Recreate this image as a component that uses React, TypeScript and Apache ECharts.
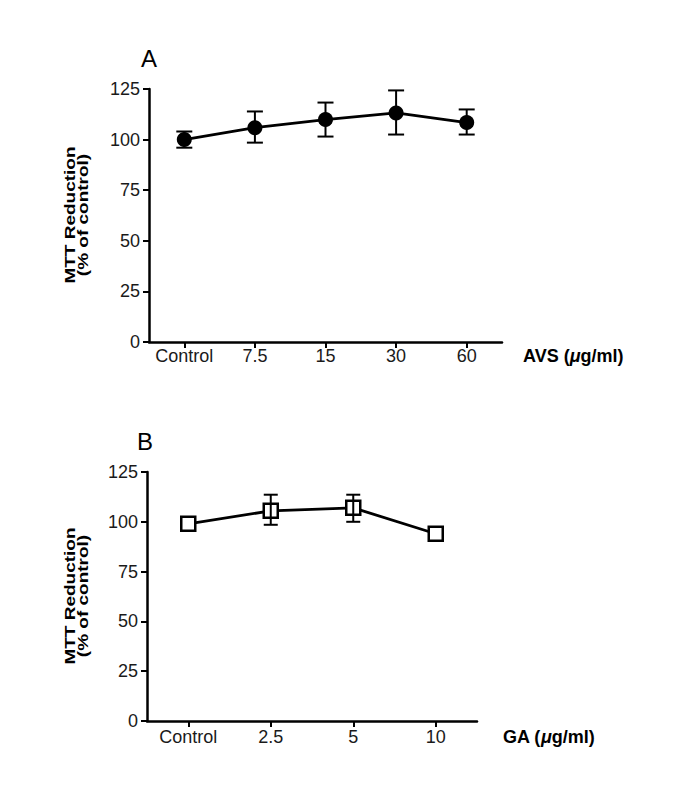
import React, { useEffect, useRef } from "react";
import * as echarts from "echarts";

const categoriesA = ["Control", "7.5", "15", "30", "60"];
const meanA = [100, 105.9, 109.9, 113.2, 108.4];
const lowA = [96, 98.5, 101.5, 102.5, 102.5];
const highA = [104, 113.9, 118.3, 124.3, 114.9];

const categoriesB = ["Control", "2.5", "5", "10"];
const meanB = [99, 105.5, 107, 94];
const lowB = [97.5, 98.5, 100, 92.5];
const highB = [100.5, 113.6, 113.6, 95.5];

const yMin = 0;
const yMax = 125;
const yStep = 25;

const FONT = "'Liberation Sans', Arial, sans-serif";

function errorRender(halfW: number, minSpan: number) {
  return (params: any, api: any) => {
    const i = api.value(0);
    const lo = api.coord([i, api.value(1)]);
    const hi = api.coord([i, api.value(2)]);
    if (Math.abs(lo[1] - hi[1]) < minSpan) return { type: "group", children: [] };
    const st = { stroke: "#000", lineWidth: 2 };
    return {
      type: "group",
      children: [
        { type: "line", shape: { x1: lo[0], y1: lo[1], x2: hi[0], y2: hi[1] }, style: st },
        { type: "line", shape: { x1: hi[0] - halfW, y1: hi[1], x2: hi[0] + halfW, y2: hi[1] }, style: st },
        { type: "line", shape: { x1: lo[0] - halfW, y1: lo[1], x2: lo[0] + halfW, y2: lo[1] }, style: st },
      ],
    };
  };
}

export default function App() {
  const ref = useRef<HTMLDivElement>(null);
  useEffect(() => {
    document.body.style.margin = "0";
    const chart = echarts.init(ref.current!, undefined, { renderer: "svg" });

    const yAxisBase = (gridIndex: number) => ({
      type: "value",
      gridIndex,
      min: yMin,
      max: yMax,
      interval: yStep,
      splitLine: { show: false },
      axisLine: { show: true, lineStyle: { color: "#000", width: 2.5 } },
      axisTick: { show: true, length: 6, lineStyle: { color: "#000", width: 2 } },
      axisLabel: { color: "#1a1a1a", fontSize: 18, fontFamily: FONT, margin: 9 },
    });
    const xAxisBase = (gridIndex: number, data: string[], margin: number) => ({
      type: "category",
      gridIndex,
      data,
      boundaryGap: true,
      axisLine: { show: true, lineStyle: { color: "#000", width: 2.5 } },
      axisTick: { show: true, alignWithLabel: true, length: 6, lineStyle: { color: "#000", width: 2 } },
      axisLabel: { color: "#1a1a1a", fontSize: 18, fontFamily: FONT, margin, interval: 0 },
    });

    const yTitle = (x: number, y: number) => ({
      type: "text",
      x,
      y,
      rotation: Math.PI / 2,
      scaleY: 0.74,
      style: {
        text: "MTT Reduction\n(% of control)",
        font: `bold 19px ${FONT}`,
        fill: "#000",
        align: "center",
        verticalAlign: "middle",
        lineHeight: 17,
      },
    });
    const xName = (x: number, y: number, head: string) => ({
      type: "text",
      x,
      y,
      style: {
        text: `{b|${head} (}{i|μ}{b|g/ml)}`,
        align: "left",
        verticalAlign: "middle",
        rich: {
          b: { fontSize: 18, fontWeight: "bold", fontFamily: FONT, fill: "#000", color: "#000" },
          i: { fontSize: 18, fontWeight: "bold", fontStyle: "italic", fontFamily: FONT, fill: "#000", color: "#000" },
        },
      },
    });

    const option: any = {
      animation: false,
      backgroundColor: "#fff",
      grid: [
        { left: 149, top: 89, width: 353, height: 253 },
        { left: 147, top: 472, width: 330, height: 249 },
      ],
      xAxis: [xAxisBase(0, categoriesA, 5), xAxisBase(1, categoriesB, 7)],
      yAxis: [yAxisBase(0), yAxisBase(1)],
      graphic: [
        { type: "text", x: 149, y: 58, style: { text: "A", font: `24px ${FONT}`, fill: "#000", align: "center", verticalAlign: "middle" } },
        { type: "text", x: 145, y: 441, style: { text: "B", font: `24px ${FONT}`, fill: "#000", align: "center", verticalAlign: "middle" } },
        yTitle(77, 215),
        yTitle(77, 596),
        xName(523, 356, "AVS"),
        xName(503, 737, "GA"),
      ],
      series: [
        {
          type: "line",
          xAxisIndex: 0,
          yAxisIndex: 0,
          data: meanA,
          symbol: "circle",
          symbolSize: 15,
          lineStyle: { color: "#000", width: 2.8 },
          itemStyle: { color: "#000" },
          z: 2,
        },
        {
          type: "custom",
          xAxisIndex: 0,
          yAxisIndex: 0,
          data: categoriesA.map((_, i) => [i, lowA[i], highA[i]]),
          encode: { x: 0, y: [1, 2] },
          renderItem: errorRender(8, 0),
          z: 3,
        },
        {
          type: "line",
          xAxisIndex: 1,
          yAxisIndex: 1,
          data: meanB,
          symbol: "rect",
          symbolSize: 14,
          showAllSymbol: true,
          lineStyle: { color: "#000", width: 2.8 },
          itemStyle: { color: "#fff", borderColor: "#000", borderWidth: 2.5 },
          z: 2,
        },
        {
          type: "custom",
          xAxisIndex: 1,
          yAxisIndex: 1,
          data: categoriesB.map((_, i) => [i, lowB[i], highB[i]]),
          encode: { x: 0, y: [1, 2] },
          renderItem: errorRender(7, 14),
          z: 3,
        },
      ],
    };
    chart.setOption(option);
    return () => chart.dispose();
  }, []);
  return <div ref={ref} style={{ width: 685, height: 805 }} />;
}
